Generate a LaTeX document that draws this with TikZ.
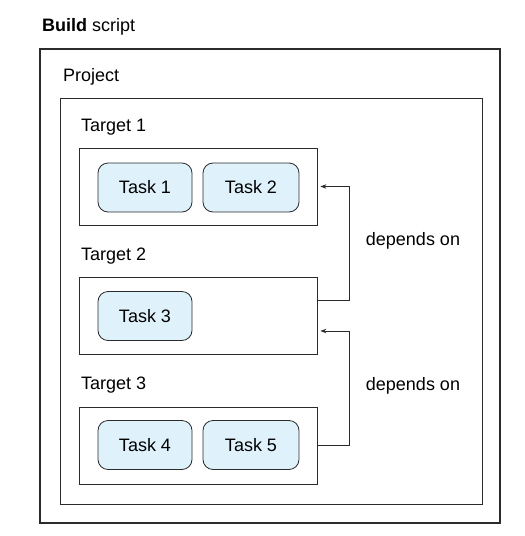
\documentclass[tikz,border=0pt]{standalone}
\usepackage{fontspec}
\usepackage{tikz}
\usepackage{xcolor}
\usetikzlibrary{arrows.meta, positioning}
\setmainfont{Liberation Sans}
\definecolor{TaskBlue}{HTML}{DFF2FC}
\definecolor{LineGray}{HTML}{2B2B2B}

\begin{document}
\begin{tikzpicture}[x=1pt, y=-1pt, font=\fontsize{18}{21}\selectfont,
    frame/.style={rectangle, draw=LineGray, line width=0.8pt, inner sep=0pt},
    task/.style={rectangle, rounded corners=10pt, draw=LineGray, line width=0.8pt, fill=TaskBlue, minimum width=94pt, minimum height=49pt, inner sep=0pt},
    caption/.style={anchor=west, inner sep=0pt},
    dep/.style={draw=LineGray, line width=0.9pt, -{Stealth[length=6pt, width=4.5pt]}}]

        \useasboundingbox (0,0) rectangle (525,536);

        \node[frame, line width=1.2pt, minimum width=460pt, minimum height=474pt] (build) at (270,286) {};
        \node[caption] (buildlbl) at (42,27) {\textbf{Build} script};

        \node[frame, minimum width=422pt, minimum height=406pt] (project) at (271,301) {};
        \node[caption] (projectlbl) at (63,77) {Project};

        \node[frame, minimum width=238pt, minimum height=77pt] (t1) at (198,186.5) {};
        \node[frame, minimum width=238pt, minimum height=77pt] (t2) at (198,315.5) {};
        \node[frame, minimum width=238pt, minimum height=77pt] (t3) at (198,445.5) {};
        \node[caption] (t1lbl) at (81,127) {Target 1};
        \node[caption] (t2lbl) at (81,256) {Target 2};
        \node[caption] (t3lbl) at (81,385) {Target 3};

        \node[task] (task1) at (145,187.5) {Task 1};
        \node[task, minimum width=96pt] (task2) at (251,187.5) {Task 2};
        \node[task] (task3) at (145,316) {Task 3};
        \node[task] (task4) at (145,445) {Task 4};
        \node[task, minimum width=96pt] (task5) at (251,445) {Task 5};

        \draw[dep] ([yshift=15.5pt]t2.east) -- ++(32,0) |- ([xshift=3pt]t1.east);
        \draw[dep] (t3.east) -- ++(32,0) |- ([xshift=3pt, yshift=-15.5pt]t2.east);

        \node (dep1) at (413,241) {depends on};
        \node (dep2) at (413,386) {depends on};

    \end{tikzpicture}
\end{document}
